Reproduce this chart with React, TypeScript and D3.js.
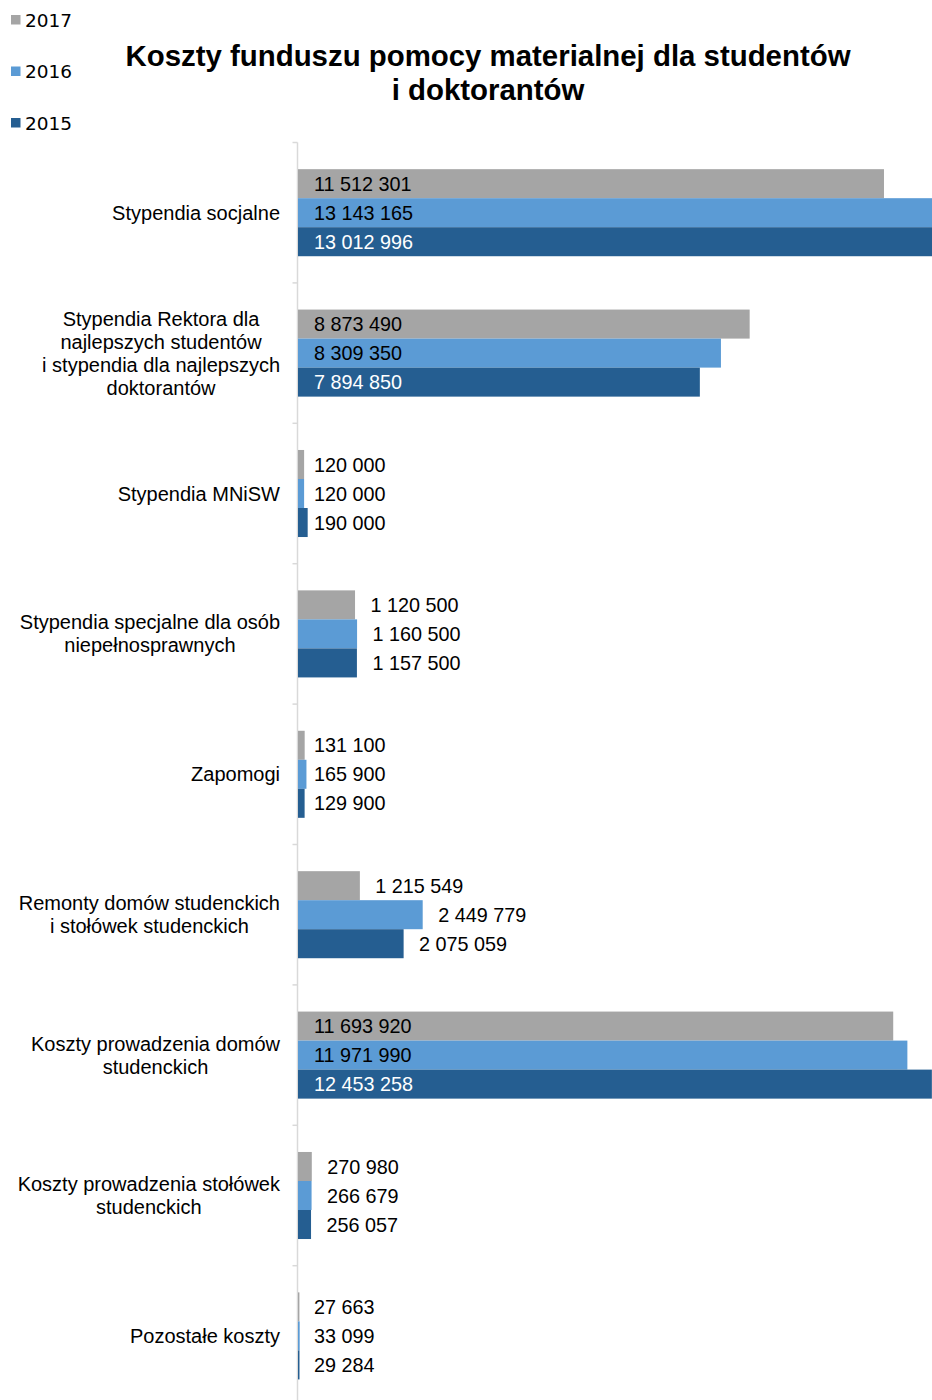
import React from "react";
import * as d3 from "d3";

const categories: string[][] = [
  ["Stypendia socjalne"],
  ["Stypendia Rektora dla", "najlepszych studentów", "i stypendia dla najlepszych", "doktorantów"],
  ["Stypendia MNiSW"],
  ["Stypendia specjalne dla osób", "niepełnosprawnych"],
  ["Zapomogi"],
  ["Remonty domów studenckich", "i stołówek studenckich"],
  ["Koszty prowadzenia domów", "studenckich"],
  ["Koszty prowadzenia stołówek", "studenckich"],
  ["Pozostałe koszty"],
];

const seriesNames = ["2017", "2016", "2015"];

const values2017 = [11512301, 8873490, 120000, 1120500, 131100, 1215549, 11693920, 270980, 27663];
const values2016 = [13143165, 8309350, 120000, 1160500, 165900, 2449779, 11971990, 266679, 33099];
const values2015 = [13012996, 7894850, 190000, 1157500, 129900, 2075059, 12453258, 256057, 29284];

const seriesValues = [values2017, values2016, values2015];
const colors = ["#A5A5A5", "#5B9BD5", "#255E91"];
const insideTextColors = ["#000000", "#000000", "#ffffff"];

const W = 932;
const H = 1400;
const FONT = "'Liberation Sans', Arial, sans-serif";

function fmt(v: number): string {
  return d3.format(",")(v).replace(/,/g, " ");
}

let measureCtx: CanvasRenderingContext2D | null = null;
function textWidth(t: string, font: string): number {
  if (!measureCtx) {
    const c = document.createElement("canvas");
    measureCtx = c.getContext("2d");
  }
  if (!measureCtx) return t.length * 9;
  measureCtx.font = font;
  return measureCtx.measureText(t).width;
}

export default function App() {
  const axisX = 297.5;
  const step = 140.4;
  const yTop = 142.5;
  const y = d3
    .scaleBand<number>()
    .domain(categories.map((_, i) => i))
    .range([yTop, yTop + step * categories.length])
    .paddingInner(0.38)
    .paddingOuter(0.19);
  const ySeries = d3
    .scaleBand<number>()
    .domain(seriesNames.map((_, i) => i))
    .range([0, y.bandwidth()]);
  const x = d3.scaleLinear().domain([0, 14000000]).range([298, 1010.6]);

  const catFontSize = 20;
  const valFontSize = 19.8;
  const lineH = 23;

  const tickYs = d3.range(categories.length).map((i) => yTop + i * y.step());

  return (
    <svg
      width={W}
      height={H}
      style={{ position: "absolute", left: 0, top: 0, background: "#fff" }}
      fontFamily={FONT}
    >
      <defs>
        <clipPath id="plot">
          <rect x={0} y={0} width={W} height={H} />
        </clipPath>
      </defs>
      {/* Legend */}
      {seriesNames.map((s, i) => {
        const ly = 20 + i * 51.5;
        return (
          <g key={s}>
            <rect x={11} y={ly - 5} width={9.5} height={9.5} fill={colors[i]} />
            <text
              x={25}
              y={ly}
              dy="0.36em"
              fontFamily="'DejaVu Sans', Verdana, sans-serif"
              fontSize={18.5}
              fill="#000"
            >
              {s}
            </text>
          </g>
        );
      })}
      {/* Title */}
      <text x={488} y={66} textAnchor="middle" fontWeight="bold" fontSize={29.4} fill="#000">
        Koszty funduszu pomocy materialnej dla studentów
      </text>
      <text x={488} y={100} textAnchor="middle" fontWeight="bold" fontSize={29.4} fill="#000">
        i doktorantów
      </text>

      {/* Axis */}
      <line x1={axisX} x2={axisX} y1={yTop} y2={H} stroke="#D9D9D9" strokeWidth={1.5} />
      {tickYs.map((ty, i) => (
        <line key={i} x1={axisX - 5} x2={axisX} y1={ty} y2={ty} stroke="#D9D9D9" strokeWidth={1.5} />
      ))}

      {/* Category labels */}
      {categories.map((lines, i) => {
        const cy = (y(i) as number) + y.bandwidth() / 2;
        const font = `${catFontSize}px 'Liberation Sans'`;
        const maxW = Math.max(...lines.map((l) => textWidth(l, font)));
        const cx = 280 - maxW / 2;
        const top = cy - ((lines.length - 1) * lineH) / 2;
        return (
          <text key={i} fontSize={catFontSize} textAnchor="middle" fill="#000">
            {lines.map((l, j) => (
              <tspan key={j} x={cx} y={top + j * lineH} dy="0.35em">
                {l}
              </tspan>
            ))}
          </text>
        );
      })}

      {/* Bars */}
      <g clipPath="url(#plot)">
        {categories.map((_, i) =>
          seriesValues.map((vals, s) => {
            const v = vals[i];
            const by = (y(i) as number) + (ySeries(s) as number);
            const bh = ySeries.bandwidth();
            const x0 = x(0);
            const x1 = x(v);
            return (
              <rect
                key={`${i}-${s}`}
                x={x0}
                y={by}
                width={Math.max(0, x1 - x0)}
                height={bh}
                fill={colors[s]}
              />
            );
          })
        )}
      </g>

      {/* Value labels */}
      {categories.map((_, i) =>
        seriesValues.map((vals, s) => {
          const v = vals[i];
          const by = (y(i) as number) + (ySeries(s) as number);
          const bh = ySeries.bandwidth();
          const x0 = x(0);
          const bw = x(v) - x0;
          const inside = bw > 150;
          let lx: number;
          if (inside) lx = x0 + 16;
          else if (bw < 12) lx = x0 + 16;
          else lx = x0 + bw + 15.5;
          return (
            <text
              key={`l-${i}-${s}`}
              x={lx}
              y={by + bh / 2}
              dy="0.36em"
              fontSize={valFontSize}
              fill={inside ? insideTextColors[s] : "#000"}
            >
              {fmt(v)}
            </text>
          );
        })
      )}
    </svg>
  );
}
